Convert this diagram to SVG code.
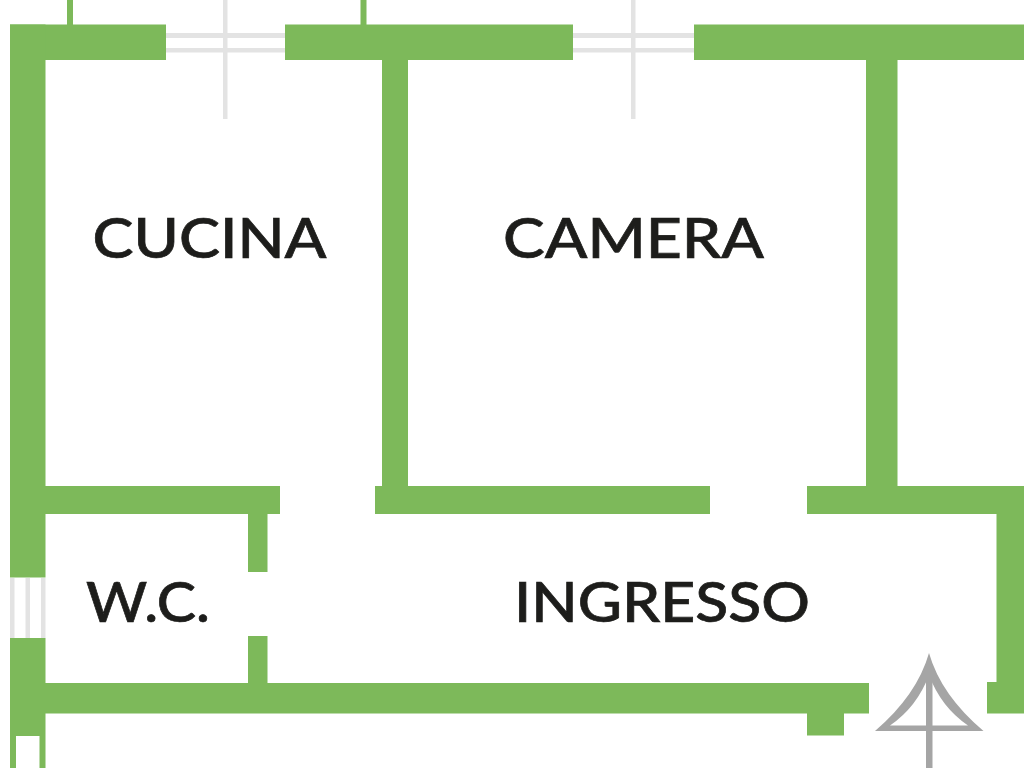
<svg xmlns="http://www.w3.org/2000/svg" width="1024" height="768" viewBox="0 0 1024 768">
<style>
.w{fill:#7db95a}
.g{fill:#e3e3e3}
.t{font-family:"Lato","Noto Sans",sans-serif;font-size:56px;font-weight:500;fill:#1d1d1b;stroke:#1d1d1b;stroke-width:.7px}
.n{fill:#a5a5a5;fill-rule:evenodd}
</style>
<rect width="1024" height="768" fill="#fff"/>
<g id="windows">
<rect class="g" x="166" y="33" width="119" height="5"/>
<rect class="g" x="166" y="48" width="119" height="4.500"/>
<rect class="g" x="223" y="0" width="4.500" height="119"/>
<rect class="g" x="573" y="33" width="121" height="5"/>
<rect class="g" x="573" y="48" width="121" height="4.500"/>
<rect class="g" x="631" y="0" width="4.500" height="119"/>
<rect class="g" x="10" y="578" width="4.500" height="60"/>
<rect class="g" x="25.500" y="578" width="4.500" height="60"/>
<rect class="g" x="41" y="578" width="4.500" height="60"/>
</g>
<g id="walls">
<rect class="w" x="67" y="0" width="6" height="25"/>
<rect class="w" x="360.500" y="0" width="6" height="25"/>
<rect class="w" x="10" y="24.500" width="156" height="35.500"/>
<rect class="w" x="285" y="24.500" width="288" height="35.500"/>
<rect class="w" x="694" y="24.500" width="330" height="35.500"/>
<rect class="w" x="10" y="24.500" width="35.500" height="553"/>
<rect class="w" x="382" y="60" width="26" height="426"/>
<rect class="w" x="866" y="60" width="31.500" height="426"/>
<rect class="w" x="45" y="486" width="235" height="28"/>
<rect class="w" x="375" y="486" width="335" height="28"/>
<rect class="w" x="807" y="486" width="217" height="28"/>
<rect class="w" x="996.500" y="514" width="27.500" height="170"/>
<rect class="w" x="987" y="682" width="37" height="31.500"/>
<rect class="w" x="248" y="514" width="19.500" height="58"/>
<rect class="w" x="248" y="636" width="19.500" height="47"/>
<rect class="w" x="10" y="638" width="35.500" height="98"/>
<rect class="w" x="10" y="736" width="6" height="32"/>
<rect class="w" x="39.500" y="736" width="6" height="32"/>
<rect class="w" x="45" y="683" width="824" height="30.500"/>
<rect class="w" x="807" y="713" width="37" height="22.500"/>
</g>
<g id="north">
<path class="n" d="M929 653 Q917 695 875 731 H983.500 Q941 695 929 653 Z M929 675 Q917 707 890 725.500 H968 Q941 707 929 675 Z"/>
<rect class="n" x="926" y="665" width="6.500" height="103"/>
</g>
<g id="labels">
<text id="cucina" class="t" x="92.500" y="258" textLength="234" lengthAdjust="spacingAndGlyphs">CUCINA</text>
<text id="camera" class="t" x="503" y="258" textLength="261" lengthAdjust="spacingAndGlyphs">CAMERA</text>
<text id="wc" class="t" x="86" y="622" textLength="124" lengthAdjust="spacingAndGlyphs">W.C.</text>
<text id="ingresso" class="t" x="514" y="622" textLength="296" lengthAdjust="spacingAndGlyphs">INGRESSO</text>
</g>
</svg>
